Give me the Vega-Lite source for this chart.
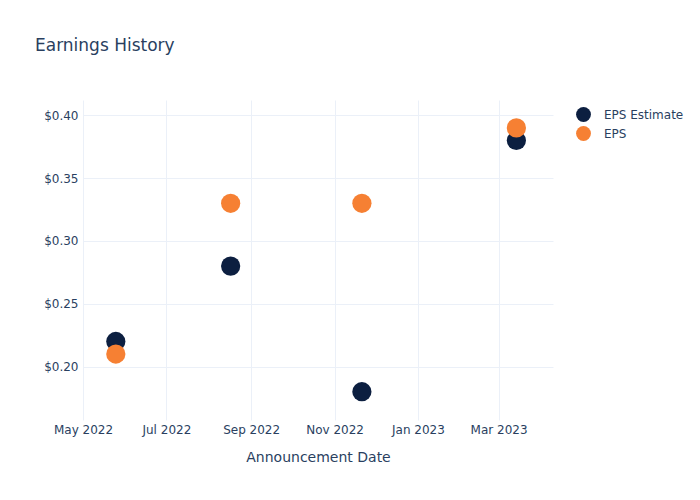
{
  "$schema": "https://vega.github.io/schema/vega-lite/v6.json",
  "autosize": "none",
  "width": 470,
  "height": 320,
  "padding": {"left": 83, "top": 100, "right": 147, "bottom": 80},
  "background": "white",
  "title": {
    "text": "Earnings History",
    "anchor": "start",
    "frame": "group",
    "dx": -48,
    "offset": 32,
    "baseline": "alphabetic",
    "font": "DejaVu Sans",
    "fontSize": 17,
    "fontWeight": "normal",
    "color": "#2a3f5f"
  },
  "data": {
    "values": [
      {"date": "2022-05-25", "series": "EPS Estimate", "value": 0.22},
      {"date": "2022-08-17", "series": "EPS Estimate", "value": 0.28},
      {"date": "2022-11-21", "series": "EPS Estimate", "value": 0.18},
      {"date": "2023-03-14", "series": "EPS Estimate", "value": 0.38},
      {"date": "2022-05-25", "series": "EPS", "value": 0.21},
      {"date": "2022-08-17", "series": "EPS", "value": 0.33},
      {"date": "2022-11-21", "series": "EPS", "value": 0.33},
      {"date": "2023-03-14", "series": "EPS", "value": 0.39}
    ]
  },
  "mark": {"type": "point", "filled": true, "opacity": 1, "size": 370, "shape": "circle"},
  "encoding": {
    "x": {
      "field": "date",
      "type": "temporal",
      "scale": {"type": "utc", "domain": ["2022-05-01T00:00:00Z", "2023-04-09T19:00:00Z"], "nice": false},
      "axis": {
        "title": "Announcement Date",
        "labelExpr": "utcFormat(datum.value, '%b %Y')",
        "tickCount": {"interval": "month", "step": 2},
        "labelFlush": false,
        "labelPadding": 4,
        "titlePadding": 15
      }
    },
    "y": {
      "field": "value",
      "type": "quantitative",
      "scale": {"domain": [0.1575, 0.4122], "nice": false, "zero": false},
      "axis": {"title": null, "format": "$.2f", "values": [0.2, 0.25, 0.3, 0.35, 0.4], "labelPadding": 5}
    },
    "color": {
      "field": "series",
      "type": "nominal",
      "scale": {"domain": ["EPS Estimate", "EPS"], "range": ["#0c1f40", "#f68033"]},
      "legend": {
        "title": null,
        "orient": "none",
        "legendX": 492,
        "legendY": 6,
        "symbolType": "circle",
        "symbolSize": 220,
        "symbolOpacity": 1,
        "labelFontSize": 12,
        "labelColor": "#2a3f5f",
        "labelFont": "DejaVu Sans",
        "rowPadding": 3,
        "labelOffset": 12
      }
    }
  },
  "config": {
    "view": {"stroke": null},
    "font": "DejaVu Sans",
    "axis": {
      "domain": false,
      "ticks": false,
      "gridColor": "#ebf0f8",
      "gridWidth": 1,
      "labelFont": "DejaVu Sans",
      "labelFontSize": 12,
      "labelColor": "#2a3f5f",
      "titleFont": "DejaVu Sans",
      "titleFontSize": 14,
      "titleFontWeight": "normal",
      "titleColor": "#2a3f5f"
    }
  }
}
